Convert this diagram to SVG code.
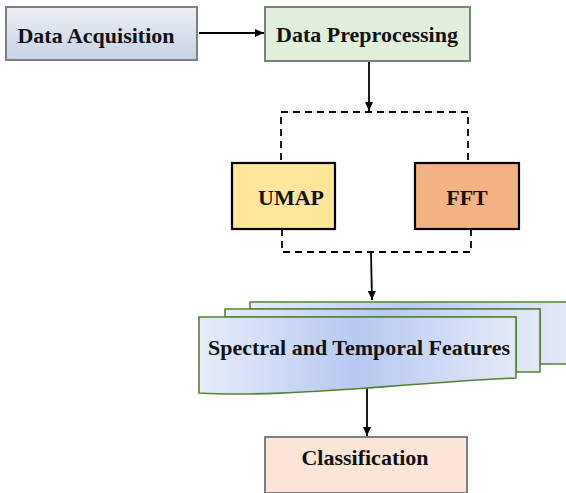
<svg xmlns="http://www.w3.org/2000/svg" width="566" height="493" viewBox="0 0 566 493">
<style>
.t{font-family:"Liberation Serif","Times New Roman",serif;font-weight:bold;fill:#111;text-anchor:middle;font-size:22px}
.gbox{stroke:#7f7f7f;stroke-width:2}
.bbox{stroke:#000;stroke-width:2.2}
.doc{stroke:#548235;stroke-width:1.6;fill:url(#docg)}
.dash{fill:none;stroke:#000;stroke-width:1.8;stroke-dasharray:7,5}
.arr{fill:none;stroke:#000;stroke-width:1.8;marker-end:url(#ah)}
</style>
<defs>
<linearGradient id="acqg" x1="0" y1="0" x2="0" y2="1">
<stop offset="0" stop-color="#eceff5"/>
<stop offset="1" stop-color="#c6d2e6"/>
</linearGradient>
<linearGradient id="docg" x1="0" y1="0" x2="1" y2="0">
<stop offset="0" stop-color="#e6ecf9"/>
<stop offset="0.5" stop-color="#b6c9f1"/>
<stop offset="1" stop-color="#e3e9f8"/>
</linearGradient>
<marker id="ah" markerWidth="10" markerHeight="10" refX="9" refY="5" orient="auto" markerUnits="userSpaceOnUse">
<path d="M0,1 L9,5 L0,9 Z" fill="#000"/>
</marker>
</defs>
<g id="connectors">
<line class="arr" x1="199" y1="33" x2="264" y2="33"/>
<line class="arr" x1="369" y1="62" x2="369" y2="111"/>
<path class="dash" d="M281,160 V112 H468 V163"/>
<path class="dash" d="M282,229 V252 H471 V229"/>
<line class="arr" x1="371" y1="252" x2="372" y2="300"/>
<line class="arr" x1="367" y1="387" x2="367" y2="436"/>
</g>
<g id="data-acquisition">
<rect class="gbox" x="6" y="7" width="191" height="53" fill="url(#acqg)"/>
<text class="t" x="96" y="43">Data Acquisition</text>
</g>
<g id="data-preprocessing">
<rect class="gbox" x="265" y="7" width="205" height="54" fill="#e2efda"/>
<text class="t" x="367" y="42">Data Preprocessing</text>
</g>
<g id="umap">
<rect class="bbox" x="232" y="163" width="103" height="66" fill="#ffe699"/>
<text class="t" x="291" y="205">UMAP</text>
</g>
<g id="fft">
<rect class="bbox" x="415" y="163" width="104" height="66" fill="#f4b183"/>
<text class="t" x="467" y="205">FFT</text>
</g>
<g id="features">
<path class="doc" d="M250,302 H570 V364 H540 V309 H250 Z"/>
<path class="doc" d="M225,309 H540 V372 H516 V317 H225 Z"/>
<path class="doc" d="M199,317 H516 V378 C470,380 420,384 367,388 C310,392 250,396 199,393 Z"/>
<text class="t" x="359" y="355">Spectral and Temporal Features</text>
</g>
<g id="classification">
<rect class="gbox" x="265" y="437" width="202" height="56" fill="#fbe5d6"/>
<text class="t" x="365" y="465">Classification</text>
</g>
</svg>
